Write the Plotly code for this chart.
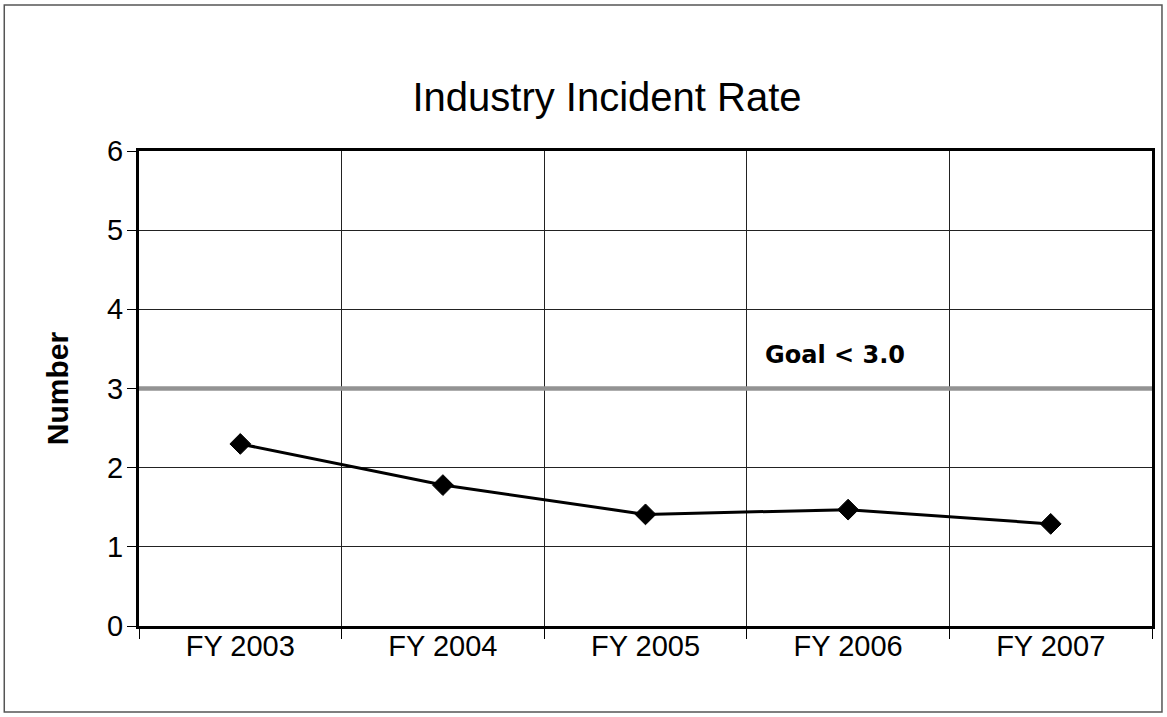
import plotly.graph_objects as go

# Fiscal years and incident rates
years = ["FY 2003", "FY 2004", "FY 2005", "FY 2006", "FY 2007"]
incident_rate = [2.30, 1.78, 1.41, 1.47, 1.29]
goal = 3.0
y_ticks = [0, 1, 2, 3, 4, 5, 6]

W, H = 1167, 717
L, R, T, B = 139, 13, 151, 91
pw, ph = W - L - R, H - T - B

def px_x(x):
    return (x - L) / pw

def px_y(y):
    return (H - B - y) / ph

fig = go.Figure()

# goal reference line across the full plot width
fig.add_shape(type="line", xref="paper", yref="y", x0=0, x1=1, y0=goal, y1=goal,
              line=dict(color="#939393", width=4.5), layer="above")

fig.add_trace(go.Scatter(
    x=years, y=incident_rate, mode="lines+markers",
    line=dict(color="black", width=3),
    marker=dict(symbol="diamond", size=16, color="black",
                line=dict(color="black", width=1)),
    showlegend=False, hoverinfo="x+y",
))

fig.add_annotation(xref="paper", yref="y", x=px_x(836), y=goal + 0.42,
                   xanchor="center", yanchor="middle",
                   text="<b>Goal &lt; 3.0</b>", showarrow=False,
                   font=dict(family="DejaVu Sans", size=24, color="black"))

# outer chart frame
fig.add_shape(type="rect", xref="paper", yref="paper",
              x0=px_x(4), x1=px_x(1164), y0=px_y(712), y1=px_y(5),
              line=dict(color="#555555", width=1.5), fillcolor="rgba(0,0,0,0)")

fig.update_layout(
    width=W, height=H,
    margin=dict(l=L, r=R, t=T, b=B),
    paper_bgcolor="white", plot_bgcolor="white",
    font=dict(family="Liberation Sans, Arial, sans-serif", color="black"),
    title=dict(text="Industry Incident Rate", x=607 / W, xanchor="center",
               y=1 - 97 / H, yanchor="middle", yref="container",
               font=dict(size=40, color="black")),
)

fig.update_xaxes(
    type="category", tickson="boundaries", ticks="outside", ticklen=10,
    tickwidth=1, tickcolor="black", ticklabelstandoff=-8,
    showline=True, linecolor="black", linewidth=3, mirror=True,
    showgrid=True, gridcolor="#222222", gridwidth=1,
    tickfont=dict(size=29, color="black"),
    range=[-0.5, 4.5],
)
fig.update_yaxes(
    range=[0, 6], tickvals=y_ticks, ticks="outside", ticklen=9, tickwidth=1,
    tickcolor="black", ticklabelstandoff=-2,
    showline=True, linecolor="black", linewidth=3, mirror=True,
    showgrid=True, gridcolor="#222222", gridwidth=1, zeroline=False,
    tickfont=dict(size=29, color="black"),
    title=dict(text="<b>Number</b>", font=dict(size=30, color="black"), standoff=30),
)

fig.write_html("out.html")
